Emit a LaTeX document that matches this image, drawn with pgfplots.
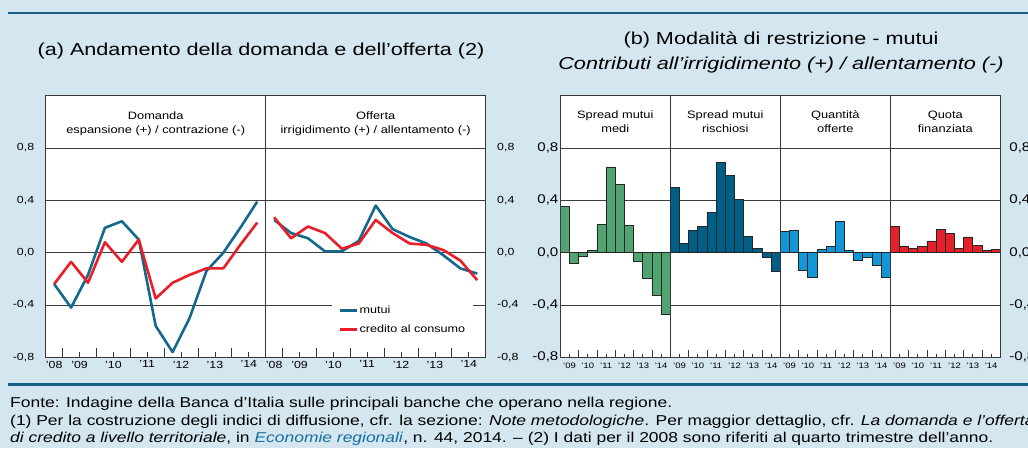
\documentclass[border=0pt]{standalone}
\usepackage{fontspec}
\setmainfont{Liberation Sans}[FakeStretch=1.2]
\newfontfamily\titlefont{Liberation Sans}[FakeStretch=1.25]
\newfontfamily\notefont{Liberation Sans}[FakeStretch=1.22]
\usepackage{pgfplots}
\pgfplotsset{compat=1.18}
\definecolor{bgc}{RGB}{212,230,240}
\definecolor{rulec}{RGB}{22,96,130}
\definecolor{framec}{RGB}{55,55,55}
\definecolor{gridc}{RGB}{60,60,60}
\definecolor{mutuic}{RGB}{20,104,140}
\definecolor{credc}{RGB}{232,30,40}
\definecolor{gA}{RGB}{82,163,114}
\definecolor{gB}{RGB}{0,94,135}
\definecolor{gC}{RGB}{18,150,214}
\definecolor{gD}{RGB}{230,32,42}
\definecolor{linkc}{RGB}{20,110,160}

\pgfplotsset{
  basefr/.style={
    scale only axis, height=261.6pt,
    ymin=-0.8, ymax=1.2,
    axis background/.style={fill=white},
    axis line style={draw=framec, line width=1.3pt},
    ytick={-0.8,-0.4,0,0.4,0.8},
    yticklabels={{-0,8},{-0,4},{0,0},{0,4},{0,8}},
    ymajorgrids,
    grid style={draw=gridc, line width=0.8pt},
    ytick style={draw=none},
    xtick pos=bottom,
    tick align=inside,
    xtick style={draw=framec, line width=0.8pt},
    xticklabels={},
    /pgf/number format/assume math mode=true,
  },
  pa/.style={
    basefr, width=220pt,
    xmin=-0.5, xmax=12.5,
    xtick={0.5,2.5,4.5,6.5,8.5,10.5},
    minor xtick={1.5,3.5,5.5,7.5,9.5,11.5},
    major tick length=9pt, minor tick length=5pt,
    extra x ticks={0,1.5,3.5,5.5,7.5,9.5,11.5},
    extra x tick labels={'08,'09,'10,'11,'12,'13,'14},
    extra x tick style={major tick length=0pt, xtick style={draw=none}},
    ticklabel style={font=\fontsize{10.3}{12}\selectfont},
  },
  pb/.style={
    basefr, width=110pt,
    xmin=-0.5, xmax=11.5,
    xtick={1.5,3.5,5.5,7.5,9.5},
    minor xtick={0.5,2.5,4.5,6.5,8.5,10.5},
    major tick length=7pt, minor tick length=3pt,
    extra x ticks={0.5,2.5,4.5,6.5,8.5,10.5},
    extra x tick labels={'09,'10,'11,'12,'13,'14},
    extra x tick style={major tick length=0pt, xtick style={draw=none}},
    xticklabel style={font=\fontsize{7.9}{9}\selectfont, yshift=-2pt},
    yticklabel style={font=\fontsize{12.6}{14}\selectfont},
  },
  bb/.style={ybar, bar width=1, bar shift=0pt, draw=black!85, line width=0.7pt, fill=#1},
  ln/.style={sharp plot, no markers, line width=2.6pt, line join=round, color=#1},
}

\begin{document}
\begin{tikzpicture}
\useasboundingbox (0pt,0pt) rectangle (1028pt,-448pt);
\fill[bgc] (0pt,0pt) rectangle (1028pt,-448pt);
\clip (0pt,0pt) rectangle (1028pt,-448pt);

\draw[rulec, line width=2pt] (8pt,-13pt) -- (1028pt,-13pt);
\draw[rulec, line width=3pt] (8pt,-384.5pt) -- (1028pt,-384.5pt);

% titles
\node[anchor=base, font=\titlefont\fontsize{17.3}{20}\selectfont, inner sep=0pt] at (261pt,-55pt) {(a) Andamento della domanda e dell’offerta (2)};
\node[anchor=base, font=\titlefont\fontsize{17.3}{20}\selectfont, inner sep=0pt] at (781pt,-44pt) {(b) Modalità di restrizione - mutui};
\node[anchor=base, font=\titlefont\fontsize{17.3}{20}\selectfont\itshape, inner sep=0pt] at (781pt,-69pt) {Contributi all’irrigidimento (+) / allentamento (-)};

% ---------- panel (a) left: Domanda
\begin{axis}[pa, at={(45.7pt,-357.3pt)}, anchor=south west,
  yticklabel style={xshift=-8pt}]
\addplot[ln=mutuic] coordinates {(0,-0.24) (1,-0.42) (2,-0.17) (3,0.19) (4,0.24) (5,0.10) (6,-0.56) (7,-0.76) (8,-0.50) (9,-0.14) (10,0.00) (11,0.19) (12,0.39)};
\addplot[ln=credc] coordinates {(0,-0.24) (1,-0.07) (2,-0.23) (3,0.08) (4,-0.07) (5,0.10) (6,-0.35) (7,-0.23) (8,-0.17) (9,-0.12) (10,-0.12) (11,0.06) (12,0.23)};
\end{axis}

% ---------- panel (a) right: Offerta
\begin{axis}[pa, at={(265.7pt,-357.3pt)}, anchor=south west,
  yticklabel pos=right, yticklabel style={xshift=8pt},
  legend style={at={(0.3,0.215)}, anchor=north west, draw=none, fill=white,
    inner xsep=7pt, inner ysep=2pt, font=\fontsize{10.5}{12}\selectfont,
    row sep=4.5pt, legend cell align=left, nodes={inner xsep=1pt, text height=8pt, text depth=2.5pt}},
  legend image code/.code={\draw[#1] (0pt,0pt) -- (17pt,0pt);}]
\addplot[ln=mutuic] coordinates {(0,0.25) (1,0.15) (2,0.11) (3,0.01) (4,0.01) (5,0.09) (6,0.36) (7,0.18) (8,0.12) (9,0.07) (10,-0.02) (11,-0.12) (12,-0.16)};
\addplot[ln=credc] coordinates {(0,0.27) (1,0.11) (2,0.20) (3,0.15) (4,0.03) (5,0.07) (6,0.25) (7,0.15) (8,0.07) (9,0.06) (10,0.02) (11,-0.06) (12,-0.21)};
\legend{mutui, credito al consumo}
\end{axis}

% ---------- panel (b)
\begin{axis}[pb, at={(560.3pt,-357.3pt)}, anchor=south west,
  yticklabel style={xshift=1.6pt}]
\addplot[bb=gA] coordinates {(0,0.355) (1,-0.08) (2,-0.025) (3,0.015) (4,0.215) (5,0.655) (6,0.523) (7,0.21) (8,-0.07) (9,-0.20) (10,-0.33) (11,-0.47)};
\end{axis}
\begin{axis}[pb, at={(670.3pt,-357.3pt)}, anchor=south west, yticklabels={}]
\addplot[bb=gB] coordinates {(0,0.50) (1,0.07) (2,0.17) (3,0.20) (4,0.305) (5,0.69) (6,0.59) (7,0.41) (8,0.127) (9,0.03) (10,-0.035) (11,-0.145)};
\end{axis}
\begin{axis}[pb, at={(780.3pt,-357.3pt)}, anchor=south west, yticklabels={}]
\addplot[bb=gC] coordinates {(0,0.16) (1,0.17) (2,-0.135) (3,-0.19) (4,0.025) (5,0.05) (6,0.24) (7,0.02) (8,-0.06) (9,-0.035) (10,-0.095) (11,-0.19)};
\end{axis}
\begin{axis}[pb, at={(890.3pt,-357.3pt)}, anchor=south west,
  yticklabel pos=right, yticklabel style={xshift=5.5pt}]
\addplot[bb=gD] coordinates {(0,0.20) (1,0.045) (2,0.033) (3,0.05) (4,0.09) (5,0.18) (6,0.147) (7,0.03) (8,0.12) (9,0.058) (10,0.018) (11,0.023)};
\end{axis}

% headers
\begin{scope}[every node/.style={anchor=base, inner sep=0pt, font=\fontsize{10.7}{12}\selectfont}]
\node at (155.7pt,-119pt) {Domanda};
\node at (155.7pt,-133.5pt) {espansione (+) / contrazione (-)};
\node at (375.7pt,-119pt) {Offerta};
\node at (375.7pt,-133.5pt) {irrigidimento (+) / allentamento (-)};
\node at (615.3pt,-118pt) {Spread mutui};
\node at (615.3pt,-132.7pt) {medi};
\node at (725.3pt,-118pt) {Spread mutui};
\node at (725.3pt,-132.7pt) {rischiosi};
\node at (835.3pt,-118pt) {Quantità};
\node at (835.3pt,-132.7pt) {offerte};
\node at (945.3pt,-118pt) {Quota};
\node at (945.3pt,-132.7pt) {finanziata};
\end{scope}

% footnotes
\begin{scope}[every node/.style={anchor=base west, inner sep=0pt, font=\notefont\fontsize{14.3}{16}\selectfont}]
\node at (10pt,-407.7pt) {Fonte: Indagine della Banca d’Italia sulle principali banche che operano nella regione.};
\node at (10pt,-425.3pt) {(1) Per la costruzione degli indici di diffusione, cfr. la sezione: \textit{Note metodologiche}. Per maggior dettaglio, cfr. \textit{La domanda e l’offerta}};
\node at (10pt,-442.5pt) {\textit{di credito a livello territoriale}, in \textcolor{linkc}{\textit{Economie regionali}}, n. 44, 2014. – (2) I dati per il 2008 sono riferiti al quarto trimestre dell’anno.};
\end{scope}
\end{tikzpicture}
\end{document}
